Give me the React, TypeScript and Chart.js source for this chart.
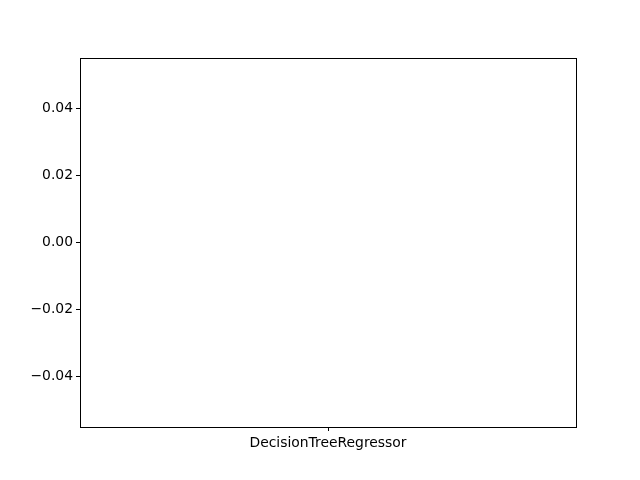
import React, { useEffect, useRef } from "react";
import { Chart, registerables } from "chart.js";

Chart.register(...registerables);

const categories = ["DecisionTreeRegressor"];
const values = [0];
const yTicks = [-0.04, -0.02, 0.0, 0.02, 0.04];
const yMin = -0.055;
const yMax = 0.055;

const FONT = "'DejaVu Sans', sans-serif";

const framePlugin = {
  id: "frame",
  afterDraw(chart: any) {
    const { ctx, chartArea } = chart;
    ctx.save();
    ctx.strokeStyle = "#000";
    ctx.lineWidth = 1;
    ctx.strokeRect(
      Math.round(chartArea.left) + 0.5,
      Math.round(chartArea.top) + 0.5,
      Math.round(chartArea.right - chartArea.left),
      Math.round(chartArea.bottom - chartArea.top)
    );
    ctx.restore();
  },
};

export default function App() {
  const ref = useRef<HTMLCanvasElement | null>(null);
  useEffect(() => {
    if (!ref.current) return;
    const chart = new Chart(ref.current, {
      type: "bar",
      data: {
        labels: categories,
        datasets: [
          {
            data: values,
            backgroundColor: "#1f77b4",
            borderWidth: 0,
          },
        ],
      },
      plugins: [framePlugin],
      options: {
        animation: false,
        responsive: false,
        maintainAspectRatio: false,
        layout: { padding: { left: 0, top: 58, right: 64, bottom: 0 } },
        plugins: {
          legend: { display: false },
          tooltip: { enabled: false },
          title: { display: false },
        },
        scales: {
          x: {
            type: "category",
            offset: true,
            border: { display: false },
            grid: {
              display: true,
              drawOnChartArea: false,
              drawTicks: true,
              tickLength: 4,
              tickColor: "#000",
              offset: false,
            },
            ticks: {
              color: "#000",
              padding: 4,
              font: { family: FONT, size: 13.9 },
              maxRotation: 0,
            },
            afterFit(scale: any) {
              scale.height = 53;
            },
          },
          y: {
            min: yMin,
            max: yMax,
            border: { display: false },
            grid: {
              display: true,
              drawOnChartArea: false,
              drawTicks: true,
              tickLength: 4,
              tickColor: "#000",
            },
            afterBuildTicks(scale: any) {
              scale.ticks = yTicks.map((v) => ({ value: v }));
            },
            ticks: {
              color: "#000",
              padding: 3,
              font: { family: FONT, size: 13.9 },
              callback: (v: any) => {
                const n = Number(v);
                const s = Math.abs(n).toFixed(2);
                return n < 0 ? "\u2212" + s : s;
              },
            },
            afterFit(scale: any) {
              scale.width = 80;
            },
          },
        },
      },
    });
    return () => chart.destroy();
  }, []);
  return (
    <div style={{ position: "absolute", left: 0, top: 0, width: 640, height: 480, background: "#fff" }}>
      <canvas ref={ref} width={640} height={480} style={{ display: "block" }} />
    </div>
  );
}
